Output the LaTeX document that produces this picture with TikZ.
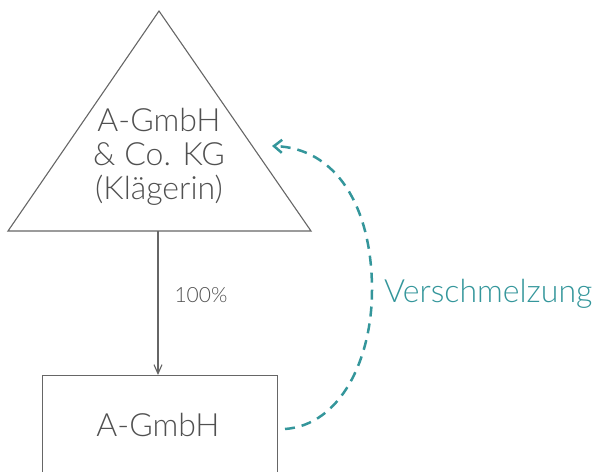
\documentclass[tikz,border=0pt]{standalone}
\usepackage{fontspec}
\setmainfont{Lato}[UprightFont=* Light]
\usetikzlibrary{arrows.meta}
\definecolor{linegray}{HTML}{666666}
\definecolor{textgray}{HTML}{505050}
\definecolor{mergeteal}{RGB}{52,150,155}
\tikzset{
  entity/.style={draw=linegray, line width=1.1pt},
  bigtext/.style={text=textgray, font=\fontsize{32}{34}\selectfont, inner sep=0pt},
  smalltext/.style={text=textgray, font=\fontsize{21}{24}\selectfont, inner sep=0pt},
  holding/.style={draw=linegray, line width=1.1pt, -{Straight Barb[length=9pt,width=8pt]}},
  merger/.style={draw=mergeteal, line width=2.5pt, dash pattern=on 10pt off 7pt,
                 -{Straight Barb[length=8pt,width=13pt]}},
  mergetext/.style={text=mergeteal, font=\fontsize{32}{34}\selectfont, inner sep=0pt}
}
\begin{document}
\begin{tikzpicture}[x=1pt,y=-1pt]
\clip (0,0) rectangle (594,471);
% parent partnership
\coordinate (apex) at (159,11);
\coordinate (bl) at (8,231);
\coordinate (br) at (311,231);
\draw[entity] (apex) -- (br) -- (bl) -- cycle;
\node[bigtext, align=center] (kg) at (159,157) {A-GmbH\\\& Co. KG\\(Klägerin)};
\coordinate (base) at (158,231);
% subsidiary
\node[entity, minimum width=235pt, minimum height=140pt, anchor=north] (gmbh) at (160,375) {};
\node[bigtext] (gmbhtext) at (158,425) {A-GmbH};
% shareholding
\draw[holding] (base) -- (base |- gmbh.north);
\node[smalltext] (share) at (201,295) {100\%};
% merger
\coordinate (mstart) at (285,429);
\coordinate (mend) at (272,146);
\draw[merger] (mstart) .. controls (340,425) and (372,360) .. (372,290)
  .. controls (372,205) and (335,148) .. (mend);
\node[mergetext, anchor=base west] (mergelabel) at (384,302) {Verschmelzung};
\end{tikzpicture}
\end{document}
